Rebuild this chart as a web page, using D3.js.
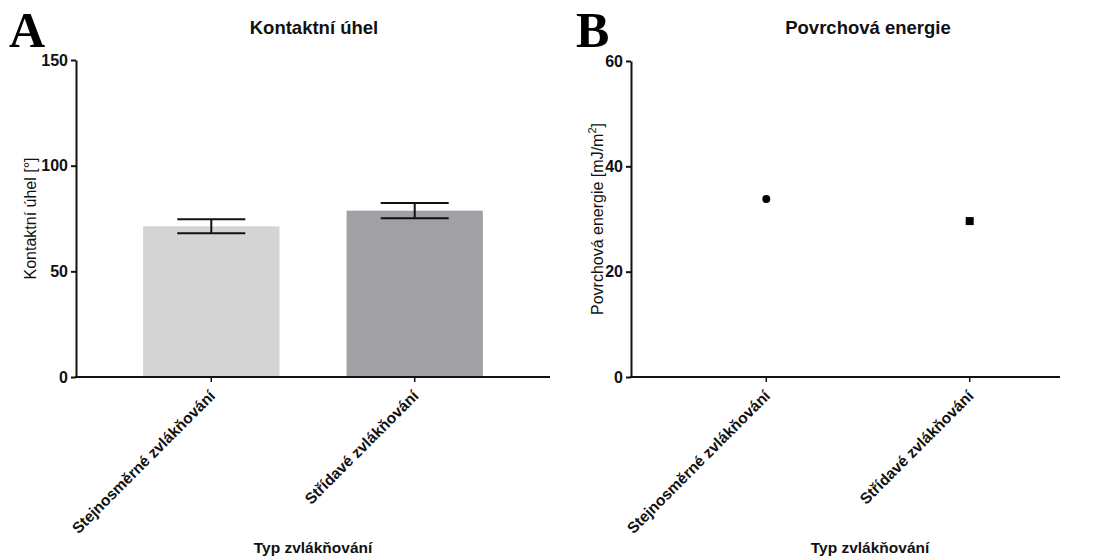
<!DOCTYPE html>
<html lang="cs">
<head>
<meta charset="UTF-8">
<title>Kontaktní úhel a povrchová energie</title>
<script src="https://d3js.org/d3.v7.min.js"></script>
<style>
    body { margin: 0; background: #fff; }
    svg { display: block; font-family: "Liberation Sans", Arial, sans-serif; }
    .tick text { font-size: 16px; font-weight: bold; fill: #111; font-family: "Liberation Sans", Arial, sans-serif; }
    .tick line, .domain { stroke: #111; }
    .title { font-size: 18.5px; font-weight: bold; fill: #111; }
    .ylab { font-size: 16px; fill: #111; }
    .xlab { font-size: 15.5px; font-weight: bold; fill: #111; }
    .panel { font-family: "Liberation Serif", "Times New Roman", serif; font-size: 50px; font-weight: bold; }
</style>
</head>
<body>
<svg id="chart" width="1099" height="558"></svg>
<script>
// data
const categories = ["Stejnosměrné zvlákňování", "Střídavé zvlákňování"];
const angleMean = [71.3, 78.7];
const angleErr = [3.3, 3.6];
const energyValues = [33.8, 29.6];
const angleTicks = [0, 50, 100, 150];
const energyTicks = [0, 20, 40, 60];
const barColors = ["#d4d4d4", "#a1a0a5"];

const svg = d3.select("#chart");

function axes(g, x, y, ticks, xEnd) {
    // y axis
    g.append("g")
        .attr("transform", `translate(${x.range()[0]},0)`)
        .call(d3.axisLeft(y).tickValues(ticks).tickSize(5).tickPadding(3).tickSizeOuter(0))
        .call(a => a.selectAll(".domain, .tick line").attr("stroke-width", 2));

    // x axis, domain line drawn by hand so it can stop at xEnd
    const xa = g.append("g")
        .attr("transform", `translate(0,${y(0)})`)
        .call(d3.axisBottom(x).tickSize(5).tickSizeOuter(0).tickFormat(""));
    xa.select(".domain").remove();
    xa.selectAll(".tick line").attr("stroke-width", 1.5);
    g.append("line")
        .attr("x1", x.range()[0] - 1).attr("x2", xEnd)
        .attr("y1", y(0)).attr("y2", y(0))
        .attr("stroke", "#111").attr("stroke-width", 2);

    // category labels
    g.selectAll(".cat")
        .data(categories)
        .enter().append("text")
        .attr("class", "xlab")
        .attr("text-anchor", "end")
        .attr("transform", d => `translate(${x(d) + x.bandwidth() / 2 + 1},${y(0) + 16}) rotate(-45)`)
        .attr("dy", "0.35em")
        .text(d => d);
}

// ---------- Panel A ----------
const gA = svg.append("g");
const xA = d3.scaleBand().domain(categories).range([76, 550]).paddingInner(0.33).paddingOuter(0.33);
const yA = d3.scaleLinear().domain([0, 150]).range([377, 60]);
const midA = d => xA(d) + xA.bandwidth() / 2;

gA.selectAll(".bar")
    .data(categories)
    .enter().append("rect")
    .attr("x", d => xA(d))
    .attr("width", xA.bandwidth())
    .attr("y", (d, i) => yA(angleMean[i]))
    .attr("height", (d, i) => yA(0) - yA(angleMean[i]))
    .attr("fill", (d, i) => barColors[i]);

const err = gA.selectAll(".err")
    .data(categories)
    .enter().append("g")
    .attr("stroke", "#111")
    .attr("stroke-width", 2);
err.append("line")
    .attr("x1", midA).attr("x2", midA)
    .attr("y1", (d, i) => yA(angleMean[i] + angleErr[i]))
    .attr("y2", (d, i) => yA(angleMean[i] - angleErr[i]));
err.append("line")
    .attr("x1", d => midA(d) - 34).attr("x2", d => midA(d) + 34)
    .attr("y1", (d, i) => yA(angleMean[i] + angleErr[i]))
    .attr("y2", (d, i) => yA(angleMean[i] + angleErr[i]));
err.append("line")
    .attr("x1", d => midA(d) - 34).attr("x2", d => midA(d) + 34)
    .attr("y1", (d, i) => yA(angleMean[i] - angleErr[i]))
    .attr("y2", (d, i) => yA(angleMean[i] - angleErr[i]));

axes(gA, xA, yA, angleTicks, 550);

gA.append("text").attr("class", "title").attr("x", 314).attr("y", 34).attr("text-anchor", "middle").text("Kontaktní úhel");
gA.append("text").attr("class", "ylab").attr("text-anchor", "middle")
    .attr("transform", `translate(36,${(yA(0) + yA(150)) / 2}) rotate(-90)`)
    .text("Kontaktní úhel [°]");
gA.append("text").attr("class", "xlab").attr("x", 313).attr("y", 553).attr("text-anchor", "middle").text("Typ zvlákňování");
gA.append("text").attr("class", "panel").attr("x", 9).attr("y", 47).text("A");

// ---------- Panel B ----------
const gB = svg.append("g");
const xB = d3.scaleBand().domain(categories).range([631, 1105]).paddingInner(0.33).paddingOuter(0.33);
const yB = d3.scaleLinear().domain([0, 60]).range([377, 61]);
const midB = d => xB(d) + xB.bandwidth() / 2;

axes(gB, xB, yB, energyTicks, 1060);

gB.append("circle")
    .attr("cx", midB(categories[0]))
    .attr("cy", yB(energyValues[0]))
    .attr("r", 4)
    .attr("fill", "#000");
gB.append("rect")
    .attr("x", midB(categories[1]) - 4)
    .attr("y", yB(energyValues[1]) - 4)
    .attr("width", 8).attr("height", 8)
    .attr("fill", "#000");

gB.append("text").attr("class", "title").attr("x", 868).attr("y", 34).attr("text-anchor", "middle").text("Povrchová energie");
const yl = gB.append("text").attr("class", "ylab").attr("text-anchor", "middle")
    .attr("transform", `translate(603,${(yB(0) + yB(60)) / 2}) rotate(-90)`);
yl.append("tspan").text("Povrchová energie [mJ/m");
yl.append("tspan").attr("font-size", "11px").attr("dy", "-7").text("2");
yl.append("tspan").attr("dy", "7").text("]");
gB.append("text").attr("class", "xlab").attr("x", 870).attr("y", 553).attr("text-anchor", "middle").text("Typ zvlákňování");
gB.append("text").attr("class", "panel").attr("x", 576).attr("y", 47).text("B");
</script>
</body>
</html>
